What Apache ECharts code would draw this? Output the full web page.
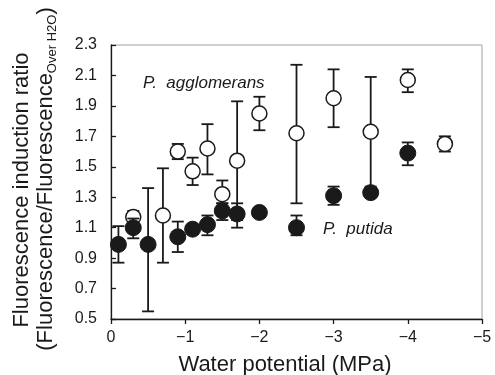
<!DOCTYPE html>
<html>
<head>
<meta charset="utf-8">
<script src="https://cdn.jsdelivr.net/npm/echarts@6/dist/echarts.min.js"></script>
<style>
  html, body { margin: 0; padding: 0; background: #fff; }
  #chart { width: 495px; height: 375px; }
</style>
</head>
<body>
<div id="chart"></div>
<script>
// P. putida (filled circles)
const putidaX    = [-0.1, -0.3, -0.5, -0.9, -1.1, -1.3, -1.5, -1.7, -2.0, -2.5, -3.0, -3.5, -4.0];
const putidaY    = [0.99, 1.10, 0.99, 1.04, 1.09, 1.12, 1.21, 1.19, 1.20, 1.10, 1.31, 1.33, 1.59];
const putidaLow  = [0.87, 1.03, 0.55, 0.94, 1.06, 1.05, 1.15, 1.10, 1.17, 1.05, 1.25, 1.30, 1.51];
const putidaHigh = [1.11, 1.16, 1.36, 1.14, 1.12, 1.18, 1.26, 1.26, 1.23, 1.18, 1.37, 1.36, 1.66];

// P. agglomerans (open circles)
const agglX    = [-0.3, -0.7, -0.9, -1.1, -1.3, -1.5, -1.7, -2.0, -2.5, -3.0, -3.5, -4.0, -4.5];
const agglY    = [1.17, 1.18, 1.60, 1.47, 1.62, 1.32, 1.54, 1.85, 1.72, 1.95, 1.73, 2.07, 1.65];
const agglLow  = [1.13, 0.87, 1.55, 1.38, 1.45, 1.26, 1.15, 1.74, 1.26, 1.76, 1.37, 1.99, 1.60];
const agglHigh = [1.21, 1.49, 1.65, 1.56, 1.78, 1.41, 1.93, 1.96, 2.17, 2.14, 2.09, 2.14, 1.70];

const FONT = 'Liberation Sans, Arial, sans-serif';
const INK = '#1a1a1a';

const chart = echarts.init(document.getElementById('chart'), null, { renderer: 'canvas' });

// error bars drawn via the axes' coordinate system
const errorBar = (params, api) => {
  const x = api.value(0);
  const top = api.coord([x, api.value(2)]);
  const bot = api.coord([x, api.value(1)]);
  const w = 6;
  const style = { stroke: INK, lineWidth: 1.8 };
  return {
    type: 'group',
    children: [
      { type: 'line', shape: { x1: top[0], y1: top[1], x2: bot[0], y2: bot[1] }, style },
      { type: 'line', shape: { x1: top[0] - w, y1: top[1], x2: top[0] + w, y2: top[1] }, style },
      { type: 'line', shape: { x1: bot[0] - w, y1: bot[1], x2: bot[0] + w, y2: bot[1] }, style },
    ],
  };
};

const zip3 = (a, b, c) => a.map((v, i) => [v, b[i], c[i]]);
const zip2 = (a, b) => a.map((v, i) => [v, b[i]]);

const option = {
  backgroundColor: '#fff',
  animation: false,
  grid: {
    left: 111, right: 13, top: 45, bottom: 56,
    show: true, borderColor: '#a0a0a0', borderWidth: 1,
  },
  xAxis: {
    type: 'value',
    min: -5, max: 0, interval: 1,
    inverse: true,
    splitLine: { show: false },
    axisLine: { show: true, onZero: false, lineStyle: { color: INK, width: 1.3 } },
    axisTick: { show: true, inside: false, length: 5, lineStyle: { color: INK, width: 1.3 } },
    axisLabel: {
      color: INK, fontFamily: FONT, fontSize: 16, margin: 11,
      formatter: v => (v === 0 ? '0' : '\u2212' + Math.abs(v)),
    },
  },
  yAxis: {
    type: 'value',
    min: 0.5, max: 2.3, interval: 0.2,
    splitLine: { show: false },
    axisLine: { show: true, onZero: false, lineStyle: { color: INK, width: 1.3 } },
    axisTick: { show: true, inside: true, length: 5, lineStyle: { color: INK, width: 1.3 } },
    axisLabel: {
      color: INK, fontFamily: FONT, fontSize: 16, margin: 14,
      formatter: v => v.toFixed(1),
    },
  },
  series: [
    {
      type: 'custom',
      renderItem: errorBar,
      encode: { x: 0, y: [1, 2] },
      data: zip3(agglX, agglLow, agglHigh),
      z: 1,
    },
    {
      type: 'scatter',
      symbol: 'circle',
      symbolSize: 15,
      itemStyle: { color: '#fff', borderColor: INK, borderWidth: 1.5, opacity: 1 },
      data: zip2(agglX, agglY),
      z: 2,
    },
    {
      type: 'custom',
      renderItem: errorBar,
      encode: { x: 0, y: [1, 2] },
      data: zip3(putidaX, putidaLow, putidaHigh),
      z: 3,
    },
    {
      type: 'scatter',
      symbol: 'circle',
      symbolSize: 16,
      itemStyle: { color: INK, borderColor: INK, borderWidth: 1, opacity: 1 },
      data: zip2(putidaX, putidaY),
      z: 4,
    },
  ],
  graphic: [
    {
      type: 'text', x: 22, y: 190, rotation: Math.PI / 2,
      style: {
        text: 'Fluorescence induction ratio',
        fill: INK, font: '22px ' + FONT, align: 'center', verticalAlign: 'middle',
      },
    },
    {
      type: 'text', x: 46, y: 179, rotation: Math.PI / 2,
      style: {
        text: '(Fluorescence/Fluorescence{sub|Over H2O})',
        fill: INK, font: '22px ' + FONT, align: 'center', verticalAlign: 'middle',
        rich: {
          sub: { fontSize: 13, fontFamily: FONT, fill: INK, padding: [12, 0, 0, 0], verticalAlign: 'bottom' },
        },
      },
    },
    {
      type: 'text', x: 285, y: 365,
      style: {
        text: 'Water potential (MPa)',
        fill: INK, font: '22px ' + FONT, align: 'center', verticalAlign: 'middle',
      },
    },
    {
      type: 'text', x: 143, y: 83,
      style: {
        text: 'P.  agglomerans',
        fill: INK, font: 'italic 17px ' + FONT, align: 'left', verticalAlign: 'middle',
      },
    },
    {
      type: 'text', x: 323, y: 229,
      style: {
        text: 'P.  putida',
        fill: INK, font: 'italic 17px ' + FONT, align: 'left', verticalAlign: 'middle',
      },
    },
  ],
};

chart.setOption(option);
window.addEventListener('resize', () => chart.resize());
</script>
</body>
</html>
